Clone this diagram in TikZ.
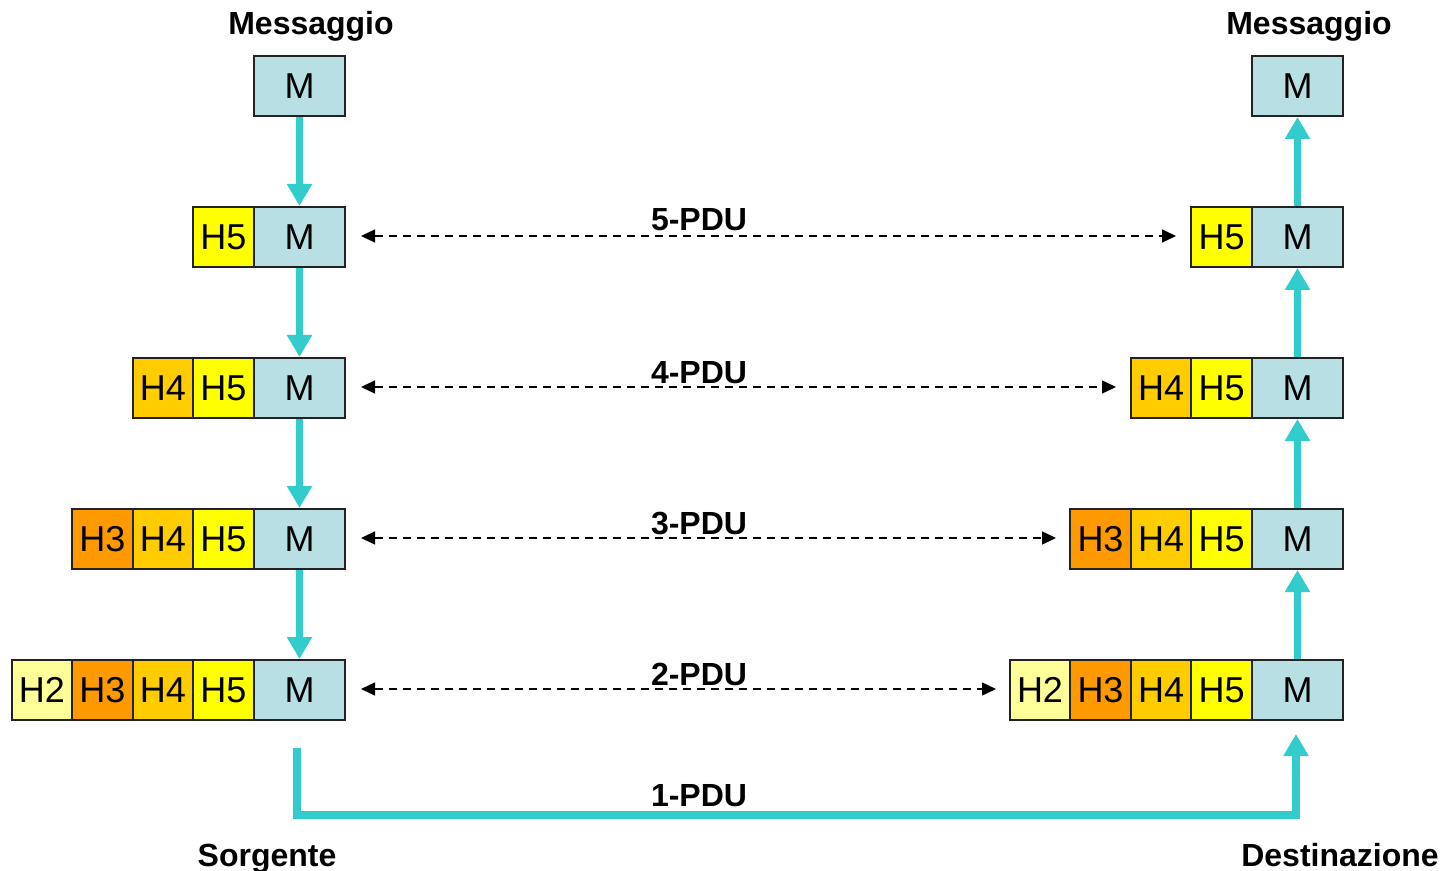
\documentclass[tikz,border=0pt]{standalone}
\usepackage{fontspec}
\setmainfont{Liberation Sans}
\usetikzlibrary{arrows.meta}
\definecolor{mcol}{HTML}{B8E0E4}
\definecolor{hfive}{HTML}{FFFF00}
\definecolor{hfour}{HTML}{FFCC00}
\definecolor{hthree}{HTML}{FF9900}
\definecolor{htwo}{HTML}{FFFF99}
\definecolor{cyanarr}{HTML}{33CCCC}
\definecolor{edge}{HTML}{222222}
\tikzset{
  cell/.style={draw=edge, line width=1pt, minimum height=30pt, inner sep=0pt, font=\fontsize{18}{20}\selectfont, anchor=center},
  mbox/.style={cell, fill=mcol, minimum width=45.5pt},
  hbox/.style={cell, minimum width=30.25pt},
  lbl/.style={font=\fontsize{16}{18}\selectfont\bfseries, anchor=base, inner sep=0pt},
  flow/.style={draw=cyanarr, line width=3.2pt, -{Triangle[width=12pt,length=11pt]}},
  pdu/.style={draw=black, line width=0.7pt, dash pattern=on 4pt off 3pt, {Triangle[width=6.5pt,length=7pt]}-{Triangle[width=6.5pt,length=7pt]}}
}
\begin{document}
\begin{tikzpicture}[x=0.5pt,y=-0.5pt]
\useasboundingbox (0,0) rectangle (1444,871);
% left column
\node[mbox] (lM1) at (299.5,86) {M};
\foreach \i/\y in {2/237,3/388,4/539,5/690}{
  \node[mbox] (lM\i) at (299.5,\y) {M};
}
\node[hbox,fill=hfive] (lH52) at (223.5,237) {H5};
\node[hbox,fill=hfive] (lH53) at (223.5,388) {H5};
\node[hbox,fill=hfour] (lH43) at (163,388) {H4};
\node[hbox,fill=hfive] (lH54) at (223.5,539) {H5};
\node[hbox,fill=hfour] (lH44) at (163,539) {H4};
\node[hbox,fill=hthree] (lH34) at (102.5,539) {H3};
\node[hbox,fill=hfive] (lH55) at (223.5,690) {H5};
\node[hbox,fill=hfour] (lH45) at (163,690) {H4};
\node[hbox,fill=hthree] (lH35) at (102.5,690) {H3};
\node[hbox,fill=htwo] (lH25) at (42,690) {H2};
% right column
\node[mbox] (rM1) at (1297.5,86) {M};
\foreach \i/\y in {2/237,3/388,4/539,5/690}{
  \node[mbox] (rM\i) at (1297.5,\y) {M};
}
\node[hbox,fill=hfive] (rH52) at (1221.5,237) {H5};
\node[hbox,fill=hfive] (rH53) at (1221.5,388) {H5};
\node[hbox,fill=hfour] (rH43) at (1161,388) {H4};
\node[hbox,fill=hfive] (rH54) at (1221.5,539) {H5};
\node[hbox,fill=hfour] (rH44) at (1161,539) {H4};
\node[hbox,fill=hthree] (rH34) at (1100.5,539) {H3};
\node[hbox,fill=hfive] (rH55) at (1221.5,690) {H5};
\node[hbox,fill=hfour] (rH45) at (1161,690) {H4};
\node[hbox,fill=hthree] (rH35) at (1100.5,690) {H3};
\node[hbox,fill=htwo] (rH25) at (1040,690) {H2};
% vertical flows
\draw[flow] (lM1.south) -- (lM2.north);
\draw[flow] (lM2.south) -- (lM3.north);
\draw[flow] (lM3.south) -- (lM4.north);
\draw[flow] (lM4.south) -- (lM5.north);
\draw[flow] (rM2.north) -- (rM1.south);
\draw[flow] (rM3.north) -- (rM2.south);
\draw[flow] (rM4.north) -- (rM3.south);
\draw[flow] (rM5.north) -- (rM4.south);
% peer dashed arrows
\coordinate (pl2) at (361,236); \coordinate (pr2) at (1176,236);
\coordinate (pl3) at (361,387); \coordinate (pr3) at (1116,387);
\coordinate (pl4) at (361,538); \coordinate (pr4) at (1056,538);
\coordinate (pl5) at (361,689); \coordinate (pr5) at (996,689);
\draw[pdu] (pl2) -- (pr2);
\draw[pdu] (pl3) -- (pr3);
\draw[pdu] (pl4) -- (pr4);
\draw[pdu] (pl5) -- (pr5);
\node[lbl] (t5) at (699,231) {5-PDU};
\node[lbl] (t4) at (699,383) {4-PDU};
\node[lbl] (t3) at (699,534) {3-PDU};
\node[lbl] (t2) at (699,685) {2-PDU};
% physical link
\coordinate (s0) at (297,748);
\coordinate (sc) at (297,815);
\coordinate (dc) at (1296,815);
\coordinate (d0) at (1296,734);
\draw[flow, line width=3.6pt] (s0) -- (sc) -- (dc) -- (d0);
\node[lbl] (t1) at (699,806) {1-PDU};
% labels
\node[lbl] (msgL) at (311,35) {Messaggio};
\node[lbl] (msgR) at (1309,35) {Messaggio};
\node[lbl] (src) at (267,866) {Sorgente};
\node[lbl] (dst) at (1340,866) {Destinazione};
\end{tikzpicture}
\end{document}
